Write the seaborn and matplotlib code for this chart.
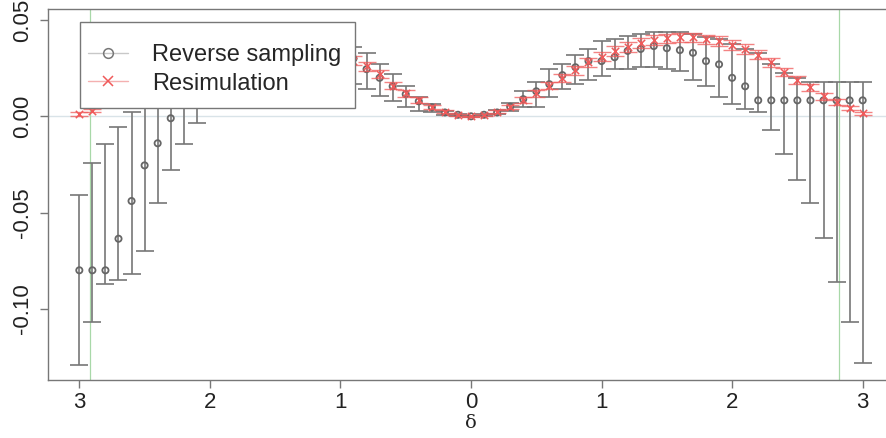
import numpy as np
import pandas as pd
import matplotlib
matplotlib.use("Agg")
import matplotlib.pyplot as plt
from matplotlib.lines import Line2D
from matplotlib.patches import Rectangle
import seaborn as sns

# Grid of delta values
delta = [-3.0, -2.9, -2.8, -2.7, -2.6, -2.5, -2.4, -2.3, -2.2, -2.1,
         -2.0, -1.9, -1.8, -1.7, -1.6, -1.5, -1.4, -1.3, -1.2, -1.1,
         -1.0, -0.9, -0.8, -0.7, -0.6, -0.5, -0.4, -0.3, -0.2, -0.1,
         0.0, 0.1, 0.2, 0.3, 0.4, 0.5, 0.6, 0.7, 0.8, 0.9,
         1.0, 1.1, 1.2, 1.3, 1.4, 1.5, 1.6, 1.7, 1.8, 1.9,
         2.0, 2.1, 2.2, 2.3, 2.4, 2.5, 2.6, 2.7, 2.8, 2.9, 3.0]

# Reverse sampling: estimate and interval bounds
rev_mean = [-0.080, -0.080, -0.080, -0.0636, -0.044, -0.0255, -0.014, -0.001, 0.006, 0.012,
            0.017, 0.021, 0.025, 0.028, 0.031, 0.033, 0.034, 0.034, 0.034, 0.033,
            0.031, 0.030, 0.0245, 0.020, 0.0156, 0.0115, 0.0078, 0.0047, 0.002, 0.0008,
            0.0, 0.0008, 0.002, 0.005, 0.0089, 0.013, 0.0167, 0.0214, 0.0255, 0.0287,
            0.0287, 0.0307, 0.034, 0.035, 0.0365, 0.0354, 0.0344, 0.033, 0.0287, 0.027,
            0.020, 0.0156, 0.0083, 0.0083, 0.0083, 0.0083, 0.0083, 0.0083, 0.0083, 0.0083, 0.0083]
rev_lo = [-0.129, -0.107, -0.087, -0.085, -0.082, -0.070, -0.045, -0.028, -0.0146, -0.0036,
          0.006, 0.010, 0.013, 0.016, 0.019, 0.021, 0.023, 0.024, 0.025, 0.024,
          0.022, 0.0167, 0.014, 0.0104, 0.0078, 0.0047, 0.0026, 0.002, 0.0008, 0.0002,
          -0.0003, 0.0003, 0.001, 0.003, 0.005, 0.005, 0.0099, 0.014, 0.0167, 0.019,
          0.021, 0.0245, 0.0245, 0.0255, 0.0255, 0.0245, 0.0234, 0.0188, 0.0156, 0.0099,
          0.0063, 0.0036, 0.002, -0.0073, -0.0198, -0.0333, -0.045, -0.063, -0.086, -0.107, -0.128]
rev_hi = [-0.041, -0.0245, -0.0146, -0.0057, 0.002, 0.008, 0.012, 0.018, 0.026, 0.030,
          0.034, 0.037, 0.040, 0.042, 0.043, 0.044, 0.044, 0.044, 0.043, 0.041,
          0.039, 0.036, 0.033, 0.027, 0.022, 0.016, 0.010, 0.0065, 0.003, 0.0012,
          0.0003, 0.0013, 0.0035, 0.007, 0.013, 0.018, 0.0245, 0.027, 0.032, 0.035,
          0.039, 0.040, 0.0417, 0.0427, 0.0437, 0.0437, 0.0437, 0.0427, 0.041, 0.040,
          0.0375, 0.035, 0.033, 0.027, 0.0224, 0.020, 0.018, 0.018, 0.018, 0.0177, 0.0177]

# Resimulation: estimate and half-width of its interval
res_mean = [0.0012, 0.003, 0.0073, 0.0104, 0.015, 0.019, 0.023, 0.028, 0.032, 0.035,
            0.037, 0.039, 0.040, 0.041, 0.041, 0.0405, 0.0395, 0.038, 0.036, 0.034,
            0.031, 0.029, 0.026, 0.022, 0.016, 0.012, 0.0085, 0.005, 0.0025, 0.0007,
            0.0, 0.0007, 0.0025, 0.005, 0.0085, 0.012, 0.016, 0.020, 0.024, 0.028,
            0.031, 0.034, 0.036, 0.038, 0.0395, 0.0405, 0.041, 0.041, 0.040, 0.039,
            0.037, 0.035, 0.032, 0.028, 0.023, 0.019, 0.015, 0.0104, 0.0073, 0.0042, 0.0016]
res_err = [0.0008, 0.001, 0.0015, 0.0018, 0.002, 0.002, 0.0022, 0.0022, 0.0024, 0.0025,
           0.0025, 0.0025, 0.0025, 0.0025, 0.0025, 0.0025, 0.0025, 0.0025, 0.0025, 0.0025,
           0.0025, 0.0025, 0.0024, 0.0022, 0.002, 0.0018, 0.0015, 0.001, 0.0006, 0.0003,
           0.0002, 0.0003, 0.0006, 0.001, 0.0015, 0.0018, 0.002, 0.0022, 0.0024, 0.0025,
           0.0025, 0.0025, 0.0025, 0.0025, 0.0025, 0.0025, 0.0025, 0.0025, 0.0025, 0.0025,
           0.0025, 0.0025, 0.0024, 0.0022, 0.0022, 0.002, 0.002, 0.0018, 0.0015, 0.001, 0.0008]

x_ticks = [-3, -2, -1, 0, 1, 2, 3]
x_tick_labels = ["3", "2", "1", "0", "1", "2", "3"]
y_ticks = [0.05, 0.00, -0.05, -0.10]
y_tick_labels = ["0.05", "0.00", "-0.05", "-0.10"]
vlines = [-2.92, 2.82]

df = pd.DataFrame({"delta": delta, "rev_mean": rev_mean, "rev_lo": rev_lo,
                   "rev_hi": rev_hi, "res_mean": res_mean, "res_err": res_err})

sns.set_theme(style="ticks")
plt.rcParams["font.family"] = ["Liberation Sans", "DejaVu Sans"]

GRAY = "#777777"
RED = "#f05a5a"
W, H = 887, 438

fig = plt.figure(figsize=(W / 100, H / 100), dpi=100)
ax = fig.add_axes([48 / W, 58 / H, 846 / W, 370.5 / H])

ax.axhline(0, color="#d9e3e8", lw=1.0, zorder=0)
for v in vlines:
    ax.axvline(v, color="#a8d8a8", lw=0.9, zorder=0)

# Reverse sampling intervals and estimates
ax.errorbar(df["delta"], df["rev_mean"],
            yerr=[df["rev_mean"] - df["rev_lo"], df["rev_hi"] - df["rev_mean"]],
            fmt="none", ecolor=GRAY, elinewidth=1.2, capsize=6.5, capthick=1.2, zorder=2)
sns.scatterplot(data=df, x="delta", y="rev_mean", marker="o", s=20,
                facecolor="none", edgecolor="#666666", linewidth=1.3, ax=ax, zorder=3)

# Resimulation intervals and estimates
ax.errorbar(df["delta"], df["res_mean"], yerr=df["res_err"],
            fmt="none", ecolor=RED, elinewidth=1.0, capsize=6.5, capthick=1.0,
            alpha=0.75, zorder=4)
sns.scatterplot(data=df, x="delta", y="res_mean", marker="x", s=28,
                color=RED, linewidth=1.1, ax=ax, zorder=5)

ax.set_xlim(-3.24, 3.24)
ax.set_ylim(-0.137, 0.0555)
ax.set_xticks(x_ticks)
ax.set_xticklabels(x_tick_labels)
ax.set_yticks(y_ticks)
ax.set_yticklabels(y_tick_labels)
for lab in ax.get_yticklabels():
    lab.set_rotation(90)
    lab.set_va("center")
    lab.set_ha("right")
ax.tick_params(axis="both", direction="out", length=6, width=1, color=GRAY,
               labelsize=16, labelcolor="#222222")
ax.tick_params(axis="x", pad=3)
ax.tick_params(axis="y", pad=5)
for sp in ax.spines.values():
    sp.set_visible(True)
    sp.set_color(GRAY)
    sp.set_linewidth(1.0)

ax.set_xlabel("δ", family=["DejaVu Serif"], fontsize=14, labelpad=0, color="#222222")
ax.set_ylabel("")

# Legend box: opaque panel drawn over the data, entries placed inside it
box = Rectangle((80 / W, (H - 108) / H), 275 / W, 86 / H, transform=fig.transFigure,
                facecolor="white", edgecolor=GRAY, lw=1.0, zorder=9)
ax.add_artist(box)

handles = [
    Line2D([0], [0], color="#c8c8c8", lw=1.0, marker="o", markersize=7,
           markerfacecolor="none", markeredgecolor=GRAY, markeredgewidth=1.1),
    Line2D([0], [0], color="#f4b0b0", lw=1.0, marker="x", markersize=7,
           markeredgecolor=RED, markeredgewidth=1.1),
]
leg = ax.legend(handles, ["Reverse sampling", "Resimulation"], loc="upper left",
                bbox_to_anchor=(88 / W, (H - 44) / H), bbox_transform=fig.transFigure,
                borderaxespad=0, borderpad=0, fontsize=17, frameon=False,
                handlelength=1.7, handletextpad=1.0, labelspacing=0.28)
leg.set_zorder(10)

fig.savefig("out.png", dpi=100)
